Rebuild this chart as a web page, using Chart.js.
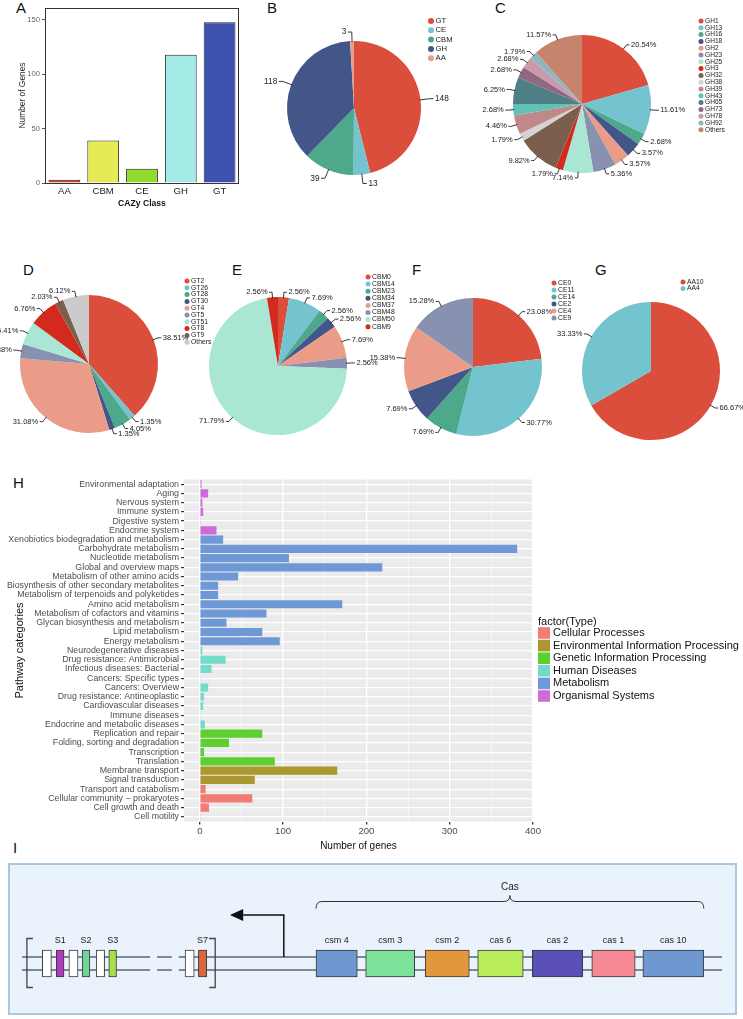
<!DOCTYPE html>
<html>
<head>
<meta charset="utf-8">
<script src="https://cdn.jsdelivr.net/npm/chart.js@4.4.0/dist/chart.umd.min.js"></script>
<style>
  body { margin: 0; background: #fff; width: 743px; height: 1019px; position: relative; overflow: hidden;
         font-family: "Liberation Sans", Arial, Helvetica, sans-serif; }
  canvas { position: absolute; }
  .tag { position: absolute; font-size: 15px; line-height: 15px; color: #111; }
  #boxI { position: absolute; left: 8px; top: 863px; width: 725px; height: 148px; background: #eaf2fb; border: 2px solid #a9c6e3; }
</style>
</head>
<body>
<div id="boxI"></div>
<div class="tag" style="left:16px;top:0px">A</div>
<div class="tag" style="left:267px;top:0px">B</div>
<div class="tag" style="left:495px;top:0px">C</div>
<div class="tag" style="left:23px;top:262px">D</div>
<div class="tag" style="left:232px;top:262px">E</div>
<div class="tag" style="left:412px;top:262px">F</div>
<div class="tag" style="left:595px;top:262px">G</div>
<div class="tag" style="left:13px;top:475px">H</div>
<div class="tag" style="left:13px;top:840px">I</div>

<canvas id="cA"></canvas>
<canvas id="cB"></canvas>
<canvas id="cC"></canvas>
<canvas id="cD"></canvas>
<canvas id="cE"></canvas>
<canvas id="cF"></canvas>
<canvas id="cG"></canvas>
<canvas id="cH"></canvas>
<canvas id="cI"></canvas>

<script>
// ---- data ----
// A: genes per CAZy class
const cazyClasses = ['AA', 'CBM', 'CE', 'GH', 'GT'];
const cazyCounts = [3, 39, 13, 118, 148];

// B: same classes as a pie
const classPieLabels = ['GT', 'CE', 'CBM', 'GH', 'AA'];
const classPieCounts = [148, 13, 39, 118, 3];

// C: GH families (%)
const ghFamilies = ['GH1', 'GH13', 'GH16', 'GH18', 'GH2', 'GH23', 'GH25', 'GH3', 'GH32', 'GH38',
                    'GH39', 'GH43', 'GH65', 'GH73', 'GH78', 'GH92', 'Others'];
const ghPercent = [20.54, 11.61, 2.68, 3.57, 3.57, 5.36, 7.14, 1.79, 9.82, 1.79,
                   4.46, 2.68, 6.25, 2.68, 2.68, 1.79, 11.57];

// D: GT families (%)
const gtFamilies = ['GT2', 'GT26', 'GT28', 'GT30', 'GT4', 'GT5', 'GT51', 'GT8', 'GT9', 'Others'];
const gtPercent = [38.51, 1.35, 4.05, 1.35, 31.08, 3.38, 5.41, 6.76, 2.03, 6.12];

// E: CBM families (%)
const cbmFamilies = ['CBM0', 'CBM14', 'CBM23', 'CBM34', 'CBM37', 'CBM48', 'CBM50', 'CBM9'];
const cbmPercent = [2.56, 7.69, 2.56, 2.56, 7.69, 2.56, 71.79, 2.56];

// F: CE families (%)
const ceFamilies = ['CE0', 'CE11', 'CE14', 'CE2', 'CE4', 'CE9'];
const cePercent = [23.08, 30.77, 7.69, 7.69, 15.38, 15.28];

// G: AA families (%)
const aaFamilies = ['AA10', 'AA4'];
const aaPercent = [66.67, 33.33];

// H: KEGG pathway categories
const pathwayNames = [
  'Environmental adaptation', 'Aging', 'Nervous system', 'Immune system', 'Digestive system', 'Endocrine system',
  'Xenobiotics biodegradation and metabolism', 'Carbohydrate metabolism', 'Nucleotide metabolism',
  'Global and overview maps', 'Metabolism of other amino acids', 'Biosynthesis of other secondary metabolites',
  'Metabolism of terpenoids and polyketides', 'Amino acid metabolism', 'Metabolism of cofactors and vitamins',
  'Glycan biosynthesis and metabolism', 'Lipid metabolism', 'Energy metabolism',
  'Neurodegenerative diseases', 'Drug resistance: Antimicrobial', 'Infectious diseases: Bacterial',
  'Cancers: Specific types', 'Cancers: Overview', 'Drug resistance: Antineoplastic', 'Cardiovascular diseases',
  'Immune diseases', 'Endocrine and metabolic diseases',
  'Replication and repair', 'Folding, sorting and degradation', 'Transcription', 'Translation',
  'Membrane transport', 'Signal transduction',
  'Transport and catabolism', 'Cellular community \u2212 prokaryotes', 'Cell growth and death', 'Cell motility'
];
const pathwayGenes = [
  2, 10, 3, 4, 1, 20,
  28, 381, 107, 219, 46, 22, 22, 171, 80, 32, 75, 96,
  3, 31, 14, 1, 10, 5, 4, 1, 6,
  75, 35, 5, 90,
  165, 66,
  7, 63, 11, 1
];
const pathwayType = [
  'Organismal Systems', 'Organismal Systems', 'Organismal Systems', 'Organismal Systems', 'Organismal Systems', 'Organismal Systems',
  'Metabolism', 'Metabolism', 'Metabolism', 'Metabolism', 'Metabolism', 'Metabolism',
  'Metabolism', 'Metabolism', 'Metabolism', 'Metabolism', 'Metabolism', 'Metabolism',
  'Human Diseases', 'Human Diseases', 'Human Diseases', 'Human Diseases', 'Human Diseases',
  'Human Diseases', 'Human Diseases', 'Human Diseases', 'Human Diseases',
  'Genetic Information Processing', 'Genetic Information Processing', 'Genetic Information Processing', 'Genetic Information Processing',
  'Environmental Information Processing', 'Environmental Information Processing',
  'Cellular Processes', 'Cellular Processes', 'Cellular Processes', 'Cellular Processes'
];
const typeNames = ['Cellular Processes', 'Environmental Information Processing', 'Genetic Information Processing',
                   'Human Diseases', 'Metabolism', 'Organismal Systems'];
const xTicksH = [0, 100, 200, 300, 400];

// I: CRISPR-Cas locus (schematic units along the locus)
const repeatStart = [2.9, 6.7, 10.6, 23.3];
const repeatEnd = [4.2, 8.0, 11.8, 24.6];
const spacerNames = ['S1', 'S2', 'S3', 'S7'];
const spacerStart = [4.9, 8.6, 12.4, 25.2];
const spacerEnd = [6.0, 9.7, 13.5, 26.4];
const geneNames = ['csm 4', 'csm 3', 'csm 2', 'cas 6', 'cas 2', 'cas 1', 'cas 10'];
const geneStart = [42.0, 49.1, 57.6, 65.1, 72.9, 81.4, 88.7];
const geneEnd = [47.9, 56.1, 63.9, 71.6, 80.1, 87.6, 97.4];

// ---- styles ----
const FONT = '"Liberation Sans", Arial, Helvetica, sans-serif';
Chart.defaults.font.family = FONT;

const barColorsA = ['#d63a2c', '#e5ea55', '#8fdb30', '#a2ebe7', '#3c52ae'];
const npg = ['#dc4e3c', '#74c4d0', '#4ea88b', '#435689', '#ea9c88', '#8892b0', '#a9e6d3', '#d3291f', '#7b5e4b', '#cbcbcb'];
const ghColors = npg.slice(0, 9).concat(['#d3d3d3', '#c08888', '#63c1b6', '#4f7f86', '#926780', '#c99aab', '#8db6bf', '#c7846d']);
const typeColors = {
  'Cellular Processes': '#f37b74',
  'Environmental Information Processing': '#ab982f',
  'Genetic Information Processing': '#5dcf2e',
  'Human Diseases': '#72dcca',
  'Metabolism': '#6f99d6',
  'Organismal Systems': '#cf6ad8'
};
const spacerColors = ['#b03cc0', '#6fd39a', '#a8e04a', '#d9673a'];
const geneColors = ['#6f98d0', '#7de39a', '#e3963c', '#b8ec5a', '#5b50b5', '#f58a94', '#6f98d0'];

function place(id, left, top, w, h) {
  const cv = document.getElementById(id);
  cv.width = w; cv.height = h;
  cv.style.left = left + 'px'; cv.style.top = top + 'px';
  return cv;
}

// ---- A: bar chart ----
const frameBox = {
  id: 'frameBox',
  afterDatasetsDraw(chart) {
    const { ctx, chartArea: a } = chart;
    ctx.save();
    ctx.strokeStyle = '#333'; ctx.lineWidth = 1;
    ctx.strokeRect(a.left + 0.5, a.top + 0.5, a.right - a.left - 1, a.bottom - a.top);
    ctx.restore();
  }
};

new Chart(place('cA', 0, 0, 250, 215), {
  type: 'bar',
  data: {
    labels: cazyClasses,
    datasets: [{ data: cazyCounts, backgroundColor: barColorsA, borderColor: '#2a2a2a', borderWidth: 1,
                 barPercentage: 0.82, categoryPercentage: 1 }]
  },
  options: {
    responsive: false, animation: false, events: [],
    layout: { padding: { top: 8, right: 11 } },
    plugins: { legend: { display: false }, tooltip: { enabled: false } },
    scales: {
      x: {
        grid: { display: false, drawTicks: false }, border: { display: false },
        ticks: { font: { size: 9.6 }, color: '#222', padding: 3 },
        title: { display: true, text: 'CAZy Class', color: '#111', font: { size: 8.6, weight: 'bold' }, padding: { top: 0, bottom: 6 } },
        afterFit: s => { s.height = 32; }
      },
      y: {
        min: 0, max: 161,
        ticks: { stepSize: 50, includeBounds: false, font: { size: 7.6 }, color: '#666', padding: 2 },
        grid: { drawOnChartArea: false, tickLength: 3, tickColor: '#555' }, border: { display: false },
        title: { display: true, text: 'Number of Genes', color: '#222', font: { size: 8.4 }, padding: { top: 18, bottom: 0 } },
        afterFit: s => { s.width = 45; }
      }
    }
  },
  plugins: [frameBox]
});

// ---- pies B-G ----
const pieLabels = {
  id: 'pieLabels',
  afterDatasetsDraw(chart, args, o) {
    const ctx = chart.ctx;
    const ds = chart.data.datasets[0];
    const meta = chart.getDatasetMeta(0);
    ctx.save();
    ctx.font = o.size + 'px ' + FONT;
    ctx.strokeStyle = '#222'; ctx.fillStyle = '#222'; ctx.lineWidth = 0.9;
    ctx.textBaseline = 'middle';
    meta.data.forEach((arc, i) => {
      const p = arc.getProps(['x', 'y', 'startAngle', 'endAngle', 'outerRadius'], true);
      const a = (p.startAngle + p.endAngle) / 2;
      const c = Math.cos(a), s = Math.sin(a), r = p.outerRadius;
      const side = c >= 0 ? 1 : -1;
      const ex = p.x + c * (r + o.line), ey = p.y + s * (r + o.line);
      ctx.beginPath();
      ctx.moveTo(p.x + c * (r - 1), p.y + s * (r - 1));
      ctx.lineTo(ex, ey);
      ctx.lineTo(ex + side * o.elbow, ey);
      ctx.stroke();
      ctx.textAlign = side > 0 ? 'left' : 'right';
      ctx.fillText(o.fmt(ds.data[i]), ex + side * (o.elbow + 1.5), ey);
    });
    const L = o.legend;
    ctx.font = L.size + 'px ' + FONT;
    ctx.textAlign = 'left';
    chart.data.labels.forEach((lab, i) => {
      const y = L.y + i * L.dy;
      ctx.fillStyle = ds.backgroundColor[i];
      ctx.beginPath(); ctx.arc(L.x, y, L.r, 0, Math.PI * 2); ctx.fill();
      ctx.fillStyle = '#222';
      ctx.fillText(lab, L.x + L.r + 1.5, y);
    });
    ctx.restore();
  }
};

function makePie(cfg) {
  const cv = place(cfg.id, cfg.left, cfg.top, cfg.w, cfg.h);
  const cx = cfg.cx - cfg.left, cy = cfg.cy - cfg.top, r = cfg.r;
  const lg = cfg.legend;
  return new Chart(cv, {
    type: 'pie',
    data: { labels: cfg.labels, datasets: [{ data: cfg.values, backgroundColor: cfg.colors, borderWidth: 0, hoverOffset: 0 }] },
    options: {
      responsive: false, animation: false, events: [], radius: r,
      layout: { padding: { left: cx - r, top: cy - r, right: cfg.w - cx - r, bottom: cfg.h - cy - r } },
      plugins: {
        legend: { display: false }, tooltip: { enabled: false },
        pieLabels: {
          size: cfg.labelSize, line: cfg.line, elbow: cfg.elbow, fmt: cfg.fmt,
          legend: { x: lg.x - cfg.left, y: lg.y - cfg.top, dy: lg.dy, r: lg.r, size: lg.size }
        }
      }
    },
    plugins: [pieLabels]
  });
}

const pct = v => v.toFixed(2) + '%';

makePie({ id: 'cB', left: 250, top: 0, w: 245, h: 215, cx: 354, cy: 108, r: 67,
  labels: classPieLabels, values: classPieCounts, colors: npg.slice(0, 5),
  labelSize: 8.3, line: 9, elbow: 4, fmt: v => String(v),
  legend: { x: 431, y: 21, dy: 9.3, r: 3, size: 7.7 } });

makePie({ id: 'cC', left: 470, top: 0, w: 273, h: 215, cx: 582, cy: 104, r: 69,
  labels: ghFamilies, values: ghPercent, colors: ghColors,
  labelSize: 7.5, line: 5, elbow: 3, fmt: pct,
  legend: { x: 701, y: 21, dy: 6.8, r: 2.5, size: 6.6 } });

makePie({ id: 'cD', left: 0, top: 250, w: 240, h: 200, cx: 89, cy: 364, r: 69,
  labels: gtFamilies, values: gtPercent, colors: npg,
  labelSize: 7.5, line: 5, elbow: 3, fmt: pct,
  legend: { x: 187, y: 281, dy: 6.8, r: 2.5, size: 6.8 } });

makePie({ id: 'cE', left: 180, top: 250, w: 220, h: 200, cx: 278, cy: 366, r: 69,
  labels: cbmFamilies, values: cbmPercent, colors: npg.slice(0, 7).concat(['#d3291f']),
  labelSize: 7.5, line: 5, elbow: 3, fmt: pct,
  legend: { x: 368, y: 277, dy: 7.1, r: 2.5, size: 6.8 } });

makePie({ id: 'cF', left: 360, top: 250, w: 220, h: 200, cx: 473, cy: 367, r: 69,
  labels: ceFamilies, values: cePercent, colors: npg.slice(0, 6),
  labelSize: 7.5, line: 5, elbow: 3, fmt: pct,
  legend: { x: 554, y: 283, dy: 7, r: 2.5, size: 6.8 } });

makePie({ id: 'cG', left: 540, top: 250, w: 203, h: 200, cx: 651, cy: 371, r: 69,
  labels: aaFamilies, values: aaPercent, colors: npg.slice(0, 2),
  labelSize: 7.5, line: 5, elbow: 3, fmt: pct,
  legend: { x: 683, y: 282, dy: 6.5, r: 2.5, size: 6.8 } });

// ---- H: pathway bars ----
const panelGrey = {
  id: 'panelGrey',
  beforeDraw(chart) {
    const { ctx, chartArea: a } = chart;
    ctx.save();
    ctx.fillStyle = '#ebebeb';
    ctx.fillRect(a.left, a.top, a.right - a.left, a.bottom - a.top);
    ctx.restore();
  }
};
const typeLegend = {
  id: 'typeLegend',
  afterDraw(chart, args, o) {
    const ctx = chart.ctx;
    ctx.save();
    ctx.textBaseline = 'middle'; ctx.textAlign = 'left';
    ctx.fillStyle = '#111';
    ctx.font = '11px ' + FONT;
    ctx.fillText('factor(Type)', o.x, o.y);
    typeNames.forEach((t, i) => {
      const y = o.y + 11 + i * o.dy;
      ctx.fillStyle = typeColors[t];
      ctx.fillRect(o.x, y - o.dy / 2 + 0.5, 12, o.dy - 1);
      ctx.fillStyle = '#111';
      ctx.fillText(t, o.x + 15, y);
    });
    ctx.restore();
  }
};

const minorH = [50, 150, 250, 350];
new Chart(place('cH', 0, 470, 743, 390), {
  type: 'bar',
  data: {
    labels: pathwayNames,
    datasets: [{ data: pathwayGenes, backgroundColor: pathwayType.map(t => typeColors[t]),
                 categoryPercentage: 0.88, barPercentage: 1 }]
  },
  options: {
    indexAxis: 'y', responsive: false, animation: false, events: [],
    layout: { padding: { top: 9.5, right: 210 } },
    plugins: {
      legend: { display: false }, tooltip: { enabled: false },
      typeLegend: { x: 538, y: 152, dy: 12.6 }
    },
    scales: {
      x: {
        type: 'linear', min: -19, max: 400,
        afterBuildTicks: s => { s.ticks = xTicksH.concat(minorH).sort((a, b) => a - b).map(v => ({ value: v })); },
        grid: {
          color: '#ffffff',
          lineWidth: c => (c.tick && c.tick.value % 100 !== 0) ? 0.6 : 1.3,
          tickColor: c => (c.tick && c.tick.value % 100 !== 0) ? 'rgba(0,0,0,0)' : '#333',
          tickLength: 3
        },
        border: { display: false },
        ticks: { callback: v => (v % 100 === 0 ? v : ''), font: { size: 9.6 }, color: '#4d4d4d', padding: 1,
                 maxRotation: 0, autoSkip: false },
        title: { display: true, text: 'Number of genes', color: '#111', font: { size: 10 }, padding: { top: 0, bottom: 8 } },
        afterFit: s => { s.height = 38.5; }
      },
      y: {
        grid: { color: '#ffffff', lineWidth: 1.2, offset: false, tickColor: '#333', tickLength: 3 },
        border: { display: false },
        ticks: { autoSkip: false, font: { size: 8.8 }, color: '#4d4d4d', padding: 2 },
        title: { display: true, text: 'Pathway categories', color: '#111', font: { size: 11 }, padding: { top: 13.4, bottom: 0 } },
        afterFit: s => { s.width = 184; }
      }
    }
  },
  plugins: [panelGrey, typeLegend]
});

// ---- I: CRISPR-Cas locus ----
const backboneSegments = [[0, 18.3], [19.3, 21.4], [22.4, 100]];
const locusDecor = {
  id: 'locusDecor',
  beforeDatasetsDraw(chart) {
    const { ctx, scales: { x, y } } = chart;
    const yc = y.getPixelForValue(0);
    ctx.save();
    ctx.strokeStyle = '#7c8a96'; ctx.lineWidth = 2;
    backboneSegments.forEach(([a, b]) => {
      [-6.5, 6.5].forEach(d => {
        ctx.beginPath();
        ctx.moveTo(x.getPixelForValue(a), yc + d);
        ctx.lineTo(x.getPixelForValue(b), yc + d);
        ctx.stroke();
      });
    });
    ctx.restore();
  },
  afterDatasetsDraw(chart) {
    const { ctx, scales: { x, y } } = chart;
    const yc = y.getPixelForValue(0);
    const px = u => x.getPixelForValue(u);
    ctx.save();
    // brackets round the CRISPR array
    ctx.strokeStyle = '#444'; ctx.lineWidth = 1.3;
    const xl = px(0.7), xr = px(27.6);
    ctx.beginPath();
    ctx.moveTo(xl + 6, yc - 25); ctx.lineTo(xl, yc - 25); ctx.lineTo(xl, yc + 24); ctx.lineTo(xl + 6, yc + 24);
    ctx.moveTo(xr - 6, yc - 25); ctx.lineTo(xr, yc - 25); ctx.lineTo(xr, yc + 24); ctx.lineTo(xr - 6, yc + 24);
    ctx.stroke();
    // transcription arrow
    ctx.strokeStyle = '#111'; ctx.fillStyle = '#111'; ctx.lineWidth = 1.5;
    const xa = px(37.4), xh = px(31.6), xt = px(29.7), ya = yc - 48.5;
    ctx.beginPath();
    ctx.moveTo(xa, yc - 6.5); ctx.lineTo(xa, ya); ctx.lineTo(xh, ya);
    ctx.stroke();
    ctx.beginPath();
    ctx.moveTo(xt, ya); ctx.lineTo(xh, ya - 6); ctx.lineTo(xh, ya + 6); ctx.closePath();
    ctx.fill();
    // brace over cas genes
    const x0 = px(geneStart[0]), x1 = px(geneEnd[geneEnd.length - 1]), xm = (x0 + x1) / 2;
    const yb = yc - 55, yl = yc - 62, yp = yc - 68;
    ctx.strokeStyle = '#333'; ctx.lineWidth = 1;
    ctx.beginPath();
    ctx.moveTo(x0, yb); ctx.quadraticCurveTo(x0, yl, x0 + 6, yl); ctx.lineTo(xm - 6, yl);
    ctx.quadraticCurveTo(xm, yl, xm, yp); ctx.quadraticCurveTo(xm, yl, xm + 6, yl);
    ctx.lineTo(x1 - 6, yl); ctx.quadraticCurveTo(x1, yl, x1, yb);
    ctx.stroke();
    // labels
    ctx.fillStyle = '#222'; ctx.textAlign = 'center'; ctx.textBaseline = 'middle';
    ctx.font = '10px ' + FONT;
    ctx.fillText('Cas', xm, yc - 76);
    ctx.font = '9px ' + FONT;
    geneNames.forEach((g, i) => ctx.fillText(g, px((geneStart[i] + geneEnd[i]) / 2), yc - 22.5));
    spacerNames.forEach((s, i) => ctx.fillText(s, px((spacerStart[i] + spacerEnd[i]) / 2), yc - 22.5));
    ctx.restore();
  }
};

const locusSets = [];
repeatStart.forEach((s, i) => locusSets.push({ data: [[s, repeatEnd[i]]], backgroundColor: '#ffffff' }));
spacerNames.forEach((n, i) => locusSets.push({ label: n, data: [[spacerStart[i], spacerEnd[i]]], backgroundColor: spacerColors[i] }));
geneNames.forEach((n, i) => locusSets.push({ label: n, data: [[geneStart[i], geneEnd[i]]], backgroundColor: geneColors[i] }));
locusSets.forEach(d => Object.assign(d, { borderColor: '#3a3a3a', borderWidth: 1, borderSkipped: false, barThickness: 27, grouped: false }));

new Chart(place('cI', 22, 865, 700, 145), {
  type: 'bar',
  data: { labels: ['locus'], datasets: locusSets },
  options: {
    indexAxis: 'y', responsive: false, animation: false, events: [],
    layout: { padding: { top: 52, bottom: 0, left: 0, right: 0 } },
    plugins: { legend: { display: false }, tooltip: { enabled: false } },
    scales: {
      x: { type: 'linear', min: 0, max: 100, display: false },
      y: { display: false }
    }
  },
  plugins: [locusDecor]
});
</script>
</body>
</html>
